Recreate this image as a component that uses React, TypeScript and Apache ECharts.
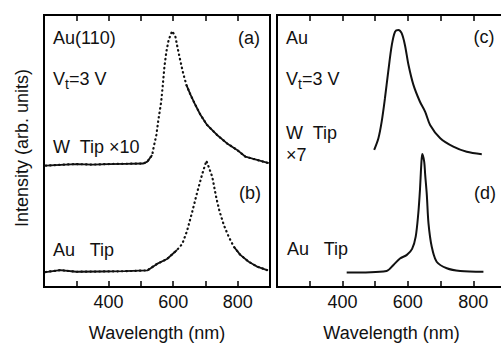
import React, { useEffect, useRef } from "react";
import * as echarts from "echarts";

// Panel (a): Au(110), W tip x10 (offset upper curve)
const wlA = [205, 250, 300, 350, 400, 450, 508, 520, 535, 540, 548, 555, 563, 568, 573, 579, 586, 597, 607, 614, 623, 631, 641, 654, 669, 685, 705, 736, 767, 798, 824, 860, 896];
const intA = [44.6, 44.9, 45.2, 45.0, 45.2, 45.3, 45.4, 46.1, 48.5, 51.6, 55.9, 62.0, 68.1, 74.3, 81.0, 86.5, 90.8, 94.1, 92.0, 87.8, 82.8, 78.6, 74.3, 70.6, 66.9, 63.2, 59.6, 55.9, 52.8, 50.4, 47.9, 46.7, 45.5];
// Panel (b): Au tip
const wlB = [205, 250, 300, 375, 450, 520, 550, 581, 612, 628, 643, 659, 674, 690, 703, 710, 721, 734, 744, 757, 772, 788, 808, 834, 860, 891];
const intB = [5.5, 6.2, 5.6, 5.7, 5.8, 6.1, 8.5, 10.3, 13.6, 15.8, 20.6, 27.6, 34.6, 41.5, 46.4, 44.2, 40.6, 32.6, 27.7, 22.8, 18.5, 14.8, 11.8, 9.3, 7.5, 6.2];
// Panel (c): Au, W tip x7
const wlC = [497, 510, 520, 530, 540, 551, 561, 571, 581, 591, 602, 617, 637, 653, 668, 699, 739, 780, 826];
const intC = [50.4, 54.7, 60.8, 69.4, 79.2, 89.0, 93.9, 94.5, 93.3, 89.0, 81.6, 74.3, 68.1, 64.4, 59.6, 54.7, 51.6, 49.7, 48.8];
// Panel (d): Au tip
const wlD = [413, 535, 556, 576, 597, 613, 624, 632, 637, 641, 644, 650, 653, 658, 663, 673, 688, 719, 760, 831];
const intD = [5.3, 5.9, 8.1, 10.5, 11.8, 14.0, 18.5, 27.2, 35.7, 44.9, 48.9, 46.0, 41.2, 33.8, 23.5, 14.8, 9.3, 6.9, 5.9, 5.6];

const xTickLabels = [400, 600, 800];

const FONT = "'Liberation Sans', Arial, sans-serif";

export default function App() {
  const ref = useRef<HTMLDivElement>(null);
  useEffect(() => {
    if (!ref.current) return;
    const chart = echarts.init(ref.current, undefined, { renderer: "svg" });
    const pairs = (w: number[], v: number[]) => w.map((x, i) => [x, v[i]]);
    const masked = (w: number[], v: number[], keep: (x: number) => boolean) =>
      w.map((x, i) => [x, keep(x) ? v[i] : null]);

    const bottomAxis = (gi: number) => ({
      type: "value",
      gridIndex: gi,
      position: "bottom",
      min: 200,
      max: 900,
      interval: 100,
      axisLine: { show: false },
      axisTick: { show: true, inside: true, length: 6, lineStyle: { color: "#000", width: 1.5 } },
      splitLine: { show: false },
      axisLabel: {
        margin: 6,
        fontSize: 18,
        fontFamily: FONT,
        color: "#111",
        formatter: (v: number) => (xTickLabels.includes(v) ? String(v) : ""),
        showMinLabel: true,
        showMaxLabel: true,
      },
      name: "Wavelength (nm)",
      nameLocation: "middle",
      nameGap: 37,
      nameTextStyle: { fontSize: 18, fontFamily: FONT, color: "#111" },
    });
    const topAxis = (gi: number) => ({
      type: "value",
      gridIndex: gi,
      position: "top",
      min: 200,
      max: 900,
      interval: 100,
      axisLine: { show: false },
      axisTick: { show: true, inside: true, length: 6, lineStyle: { color: "#000", width: 1.5 } },
      splitLine: { show: false },
      axisLabel: { show: false },
    });
    const yAx = (gi: number) => ({
      type: "value",
      gridIndex: gi,
      min: 0,
      max: 100,
      show: false,
    });

    const solid = { color: "#111", width: 1.8 };
    const dotted = { color: "#111", width: 2.2, type: [0.5, 4], cap: "round" };

    const txt = (x: number, y: number, text: string, align = "left") => ({
      type: "text",
      x,
      y,
      style: { text, fontSize: 18, fontFamily: FONT, fill: "#111", align, verticalAlign: "middle" },
    });
    const vt = (x: number, y: number) => ({
      type: "text",
      x,
      y,
      style: {
        text: "{v|V}{s|t}{v|=3 V}",
        fontSize: 18,
        fontFamily: FONT,
        fill: "#111",
        verticalAlign: "middle",
        rich: {
          v: { fontSize: 18, fontFamily: FONT, fill: "#111" },
          s: { fontSize: 14, fontFamily: FONT, fill: "#111", padding: [10, 0, 0, 0] },
        },
      },
    });

    chart.setOption({
      animation: false,
      backgroundColor: "#fff",
      grid: [
        { left: 44, top: 15, width: 226, height: 272, show: true, borderColor: "#000", borderWidth: 2 },
        { left: 277, top: 15, width: 229, height: 272, show: true, borderColor: "#000", borderWidth: 2 },
      ],
      xAxis: [bottomAxis(0), topAxis(0), bottomAxis(1), topAxis(1)],
      yAxis: [yAx(0), yAx(1)],
      series: [
        { type: "line", xAxisIndex: 0, yAxisIndex: 0, data: pairs(wlA, intA), showSymbol: false, lineStyle: dotted },
        { type: "line", xAxisIndex: 0, yAxisIndex: 0, data: masked(wlA, intA, (x) => x < 540 || x > 640), showSymbol: false, lineStyle: solid },
        { type: "line", xAxisIndex: 0, yAxisIndex: 0, data: pairs(wlB, intB), showSymbol: false, lineStyle: dotted },
        { type: "line", xAxisIndex: 0, yAxisIndex: 0, data: masked(wlB, intB, (x) => x < 615 || x > 785), showSymbol: false, lineStyle: solid },
        { type: "line", xAxisIndex: 2, yAxisIndex: 1, data: pairs(wlC, intC), showSymbol: false, smooth: 0.3, lineStyle: { color: "#111", width: 2 } },
        { type: "line", xAxisIndex: 2, yAxisIndex: 1, data: pairs(wlD, intD), showSymbol: false, smooth: 0.3, lineStyle: { color: "#111", width: 2 } },
      ],
      graphic: [
        {
          type: "text",
          x: 22,
          y: 148,
          rotation: Math.PI / 2,
          style: { text: "Intensity (arb. units)", fontSize: 18, fontFamily: FONT, fill: "#111", align: "center", verticalAlign: "middle" },
        },
        txt(53, 38, "Au(110)"),
        vt(53, 79),
        txt(53, 147, "W  Tip ×10"),
        txt(249, 38, "(a)", "center"),
        txt(250, 193, "(b)", "center"),
        txt(53, 250, "Au   Tip"),
        txt(286, 38, "Au"),
        vt(286, 79),
        txt(286, 133, "W  Tip"),
        txt(286, 155, "×7"),
        txt(484, 37, "(c)", "center"),
        txt(485, 193, "(d)", "center"),
        txt(287, 249, "Au   Tip"),
      ],
    });
    return () => chart.dispose();
  }, []);
  return <div ref={ref} style={{ position: "fixed", left: 0, top: 0, width: 512, height: 349 }} />;
}
